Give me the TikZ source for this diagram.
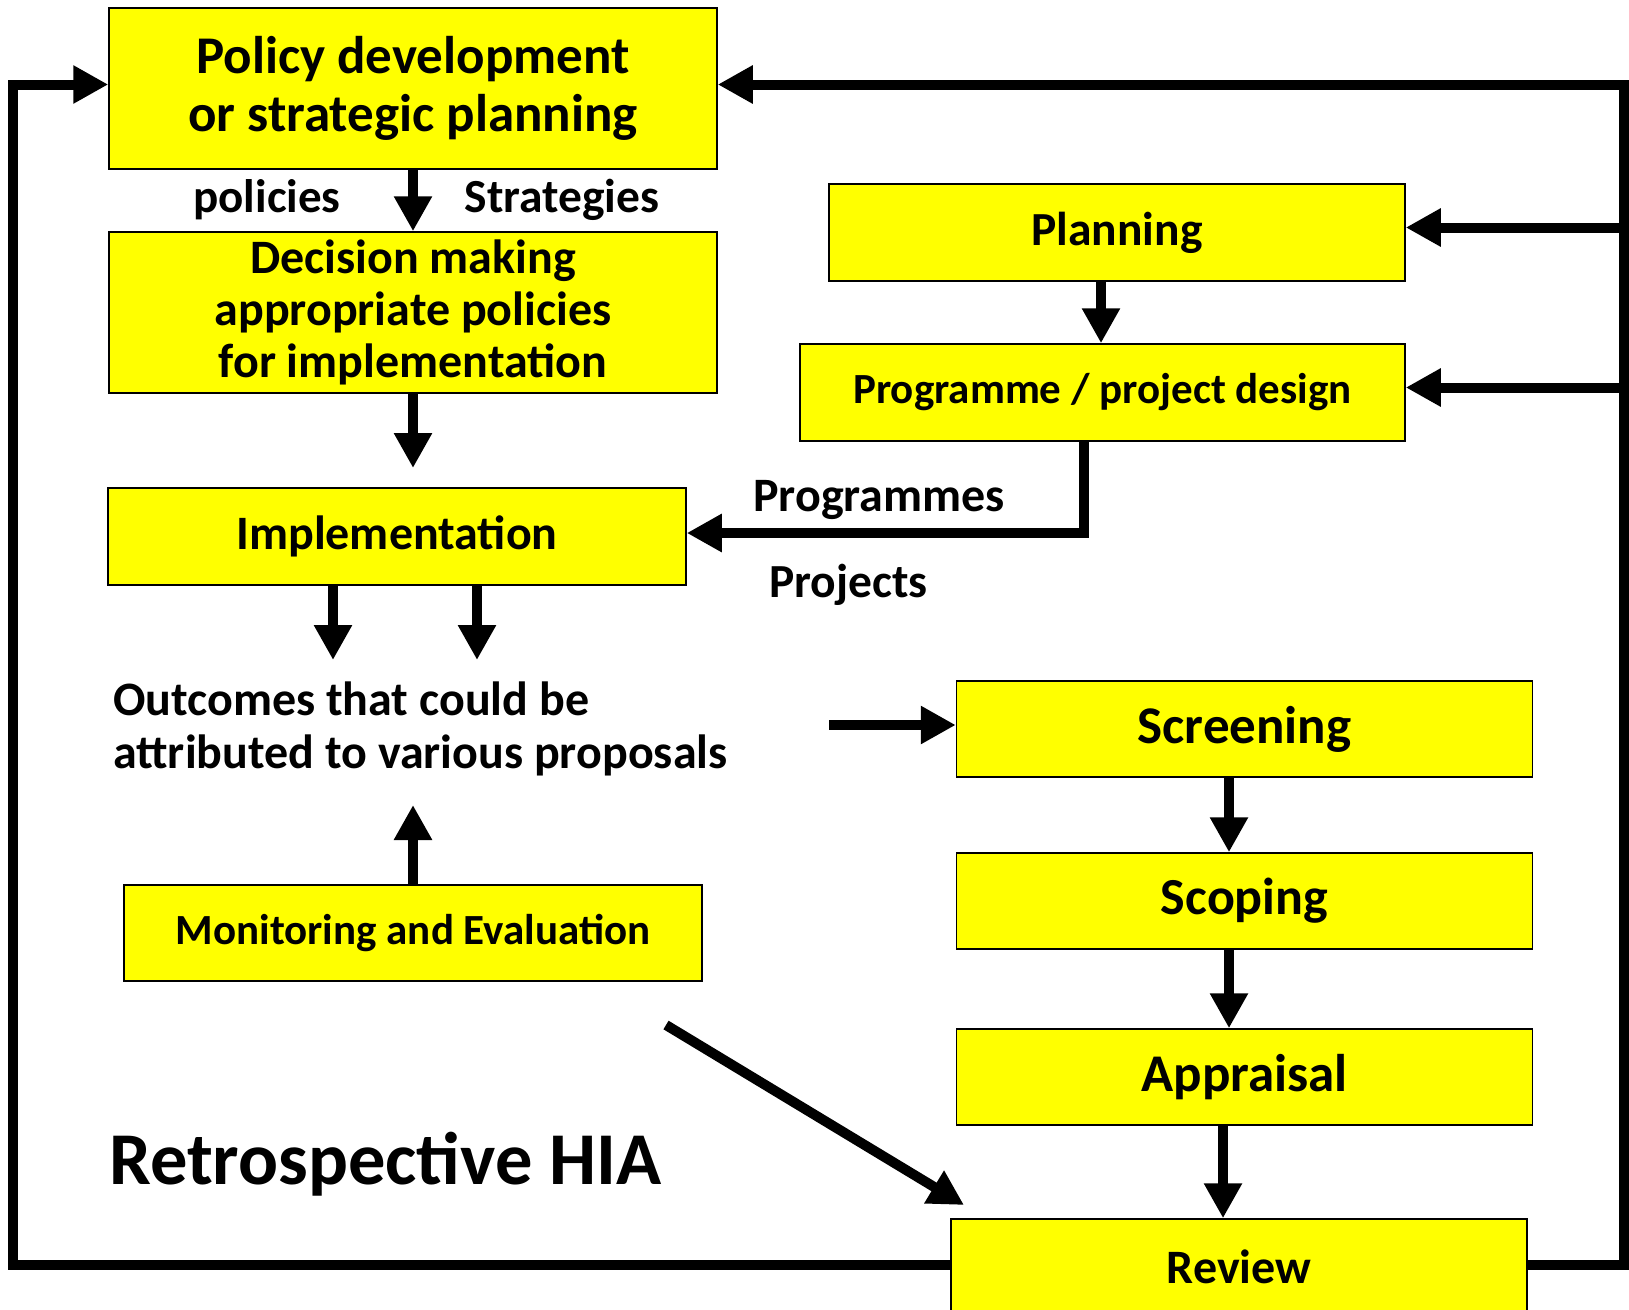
\documentclass[tikz,border=0pt]{standalone}
\usepackage{fontspec}
\setmainfont{Carlito}
\usetikzlibrary{arrows.meta}
\definecolor{boxyellow}{RGB}{255,255,0}
\newcommand{\fsz}[2]{\fontsize{#1}{#2}\selectfont\bfseries}
\begin{document}
\begin{tikzpicture}[x=1pt,y=-1pt,
  box/.style={draw=black,line width=1.5pt,fill=boxyellow,inner sep=0pt,align=center},
  lbl/.style={inner sep=0pt,anchor=west,align=left},
  arr/.style={line width=10pt,-{Triangle[length=35pt,width=36pt]}}]
\useasboundingbox (0,0) rectangle (1629,1309);
% boxes
\node[box,minimum width=608pt,minimum height=161pt,font=\fsz{53}{58}] (policy) at (413,88.5) {Policy development\\or strategic planning};
\node[box,minimum width=608pt,minimum height=161pt,font=\fsz{48}{52}] (decision) at (413,312.5) {Decision making\\appropriate policies\\for implementation};
\node[box,minimum width=578pt,minimum height=97pt,font=\fsz{48}{52}] (impl) at (397,536.5) {Implementation};
\node[box,minimum width=578pt,minimum height=96pt,font=\fsz{43}{48}] (monitor) at (413,933) {Monitoring and Evaluation};
\node[box,minimum width=576pt,minimum height=97pt,font=\fsz{47.5}{52}] (plan) at (1117,232.5) {Planning};
\node[box,minimum width=605pt,minimum height=97pt,font=\fsz{43}{48}] (prog) at (1102.5,392.5) {Programme / project design};
\node[box,minimum width=576pt,minimum height=96pt,font=\fsz{53}{58}] (screen) at (1244.5,729) {Screening};
\node[box,minimum width=576pt,minimum height=96pt,font=\fsz{52}{58}] (scope) at (1244.5,901) {Scoping};
\node[box,minimum width=576pt,minimum height=96pt,font=\fsz{53}{58}] (apprais) at (1244.5,1077) {Appraisal};
\node[box,minimum width=576pt,minimum height=96pt,font=\fsz{48}{52}] (review) at (1239,1267) {Review};
% free texts
\node[lbl,font=\fsz{47}{52},anchor=center] (pol) at (267,200) {policies};
\node[lbl,font=\fsz{47.5}{52},anchor=center] (strat) at (562,200) {Strategies};
\node[lbl,font=\fsz{48}{52}] (progs) at (753,500) {Programmes};
\node[lbl,font=\fsz{47.5}{52}] (projs) at (769,585) {Projects};
\node[lbl,font=\fsz{48}{52.5}] (outcomes) at (113,729) {Outcomes that could be\\attributed to various proposals};
\node[lbl,font=\fsz{74.5}{80}] (retro) at (109,1164) {Retrospective HIA};
% free ends
\coordinate (dec-end) at (413,468);
\coordinate (out-a) at (333,660);
\coordinate (out-b) at (477,660);
\coordinate (out-c) at (413,805);
\coordinate (to-scr) at (829,725);
\coordinate (diag-a) at (666,1025);
\coordinate (diag-b) at (964,1205);
\coordinate (lft) at (13,600);
\coordinate (rgt) at (1624,600);
% connectors
\draw[arr] (policy) -- (decision);
\draw[arr] (decision.south) -- (dec-end);
\draw[arr] (impl.south -| out-a) -- (out-a);
\draw[arr] (impl.south -| out-b) -- (out-b);
\draw[arr] (monitor.north) -- (out-c);
\draw[arr] (to-scr) -- (to-scr -| screen.west);
\draw[arr] (diag-a) -- (diag-b);
\draw[arr] ([xshift=-16pt]plan.south) -- ([xshift=-1.5pt]prog.north);
\draw[arr] ([xshift=-19pt]prog.south) |- ([yshift=3.5pt]impl.east);
\draw[arr] ([xshift=-15.5pt]screen.south) -- ([xshift=-15.5pt]scope.north);
\draw[arr] ([xshift=-15.5pt]scope.south) -- ([xshift=-15.5pt]apprais.north);
\draw[arr] ([xshift=-21.5pt]apprais.south) -- ([xshift=-16pt]review.north);
\draw[arr] ([yshift=2pt]review.west) -| (lft) |- ([yshift=4pt]policy.west);
\draw[arr] ([yshift=2pt]review.east) -| (rgt) |- ([yshift=4pt]policy.east);
\draw[arr] ([yshift=5pt]rgt |- plan.east) -- ([yshift=5pt]plan.east);
\draw[arr] ([yshift=5pt]rgt |- prog.east) -- ([yshift=5pt]prog.east);
\end{tikzpicture}
\end{document}
